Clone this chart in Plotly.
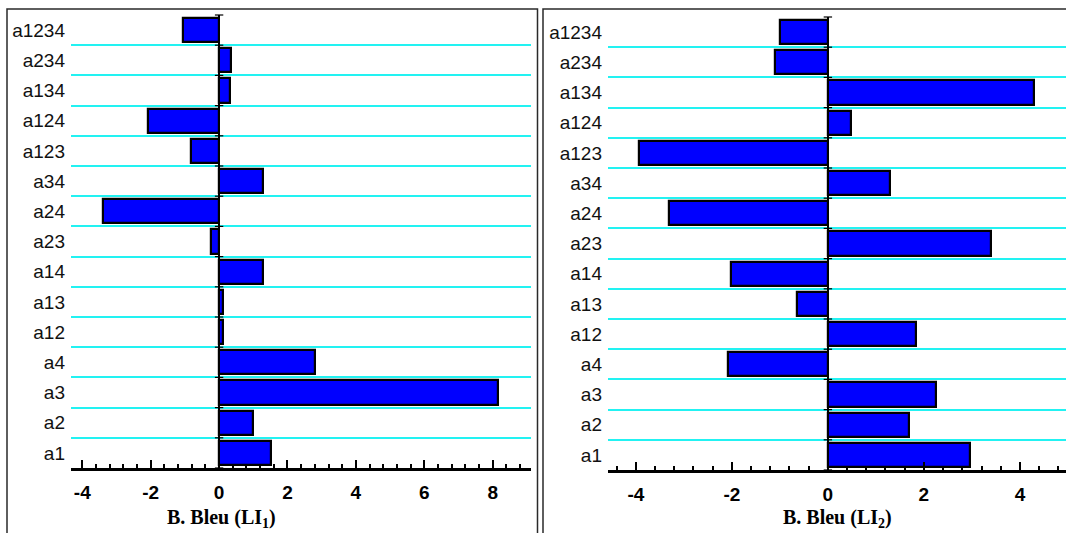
import plotly.graph_objects as go

# Effects (categories listed bottom to top)
categories = ["a1", "a2", "a3", "a4", "a12", "a13", "a14", "a23", "a24", "a34",
              "a123", "a124", "a134", "a234", "a1234"]

# Effects on B. Bleu for LI1 and LI2
li1_values = [1.52, 0.99, 8.16, 2.81, 0.12, 0.12, 1.28, -0.23, -3.39, 1.28,
              -0.83, -2.08, 0.32, 0.34, -1.06]
li2_values = [2.96, 1.69, 2.25, -2.08, 1.83, -0.65, -2.02, 3.40, -3.31, 1.29,
              -3.94, 0.49, 4.30, -1.10, -1.00]

x_tick_values = [-4, -2, 0, 2, 4, 6, 8]
x_tick_labels = ["-4", "-2", "0", "2", "4", "6", "8"]
x_titles = ["<b>B. Bleu (LI<sub>1</sub>)</b>", "<b>B. Bleu (LI<sub>2</sub>)</b>"]

W, H = 1066, 533
positions = list(range(len(categories)))
boundaries = [p + 0.5 for p in positions[:-1]]
edge_marks = [p - 0.5 for p in positions] + [positions[-1] + 0.5]


def px(x):
    return x / W


def py(y):
    return 1 - y / H


fig = go.Figure()

panels = [
    dict(values=li1_values, xa="x", ya="y", xrange=[-4.33, 9.12]),
    dict(values=li2_values, xa="x2", ya="y2", xrange=[-4.58, 4.96]),
]

for p in panels:
    fig.add_trace(go.Bar(
        x=p["values"], y=positions, orientation="h", width=0.8,
        marker=dict(color="#0000FF", line=dict(color="#000000", width=2.2)),
        xaxis=p["xa"], yaxis=p["ya"], showlegend=False, hoverinfo="x+y",
    ))
    # small marks along the zero axis at the row boundaries
    fig.add_trace(go.Scatter(
        x=[0] * len(edge_marks), y=edge_marks, mode="markers",
        marker=dict(symbol="line-ew", size=6, line=dict(color="#000000", width=1.2)),
        xaxis=p["xa"], yaxis=p["ya"], showlegend=False, hoverinfo="skip",
        cliponaxis=False,
    ))

tick_font = dict(family="Liberation Sans Narrow, Liberation Sans, Arial", size=19,
                 color="#000000", weight="bold")
cat_font = dict(family="Liberation Sans, Arial", size=19, color="#111111")


def x_axis(domain, rng, anchor):
    return dict(
        domain=domain, range=rng, anchor=anchor,
        tickmode="array", tickvals=x_tick_values, ticktext=x_tick_labels,
        ticks="inside", ticklen=8, tickwidth=2, tickcolor="#000000",
        minor=dict(dtick=0.4, tick0=0, ticks="inside", ticklen=4, tickwidth=2,
                   tickcolor="#000000", showgrid=False),
        showline=True, linecolor="#000000", linewidth=2.5,
        showgrid=False, zeroline=True, zerolinecolor="#000000", zerolinewidth=1.5,
        tickfont=tick_font, ticklabelstandoff=5, fixedrange=True,
    )


def y_axis(domain, anchor):
    return dict(
        domain=domain, range=[-0.5, len(categories) - 0.5], anchor=anchor,
        tickmode="array", tickvals=positions, ticktext=categories,
        ticks="", showline=False, showgrid=False, zeroline=False,
        minor=dict(tickmode="array", tickvals=boundaries, showgrid=True,
                   gridcolor="#22F2F2", gridwidth=2, ticks=""),
        tickfont=cat_font, ticklabelstandoff=5, fixedrange=True,
    )


title_font = dict(family="Liberation Serif, Times New Roman", size=20, color="#000000")

fig.update_layout(
    width=W, height=H,
    margin=dict(l=0, r=0, t=0, b=0),
    paper_bgcolor="#FFFFFF", plot_bgcolor="#FFFFFF",
    bargap=0,
    xaxis=x_axis([px(71), px(531)], panels[0]["xrange"], "y"),
    yaxis=y_axis([py(468), py(15)], "x"),
    xaxis2=x_axis([px(608), 1.0], panels[1]["xrange"], "y2"),
    yaxis2=y_axis([py(470), py(17)], "x2"),
    shapes=[
        dict(type="rect", xref="paper", yref="paper",
             x0=px(7), x1=px(537.5), y0=-0.05, y1=py(9),
             line=dict(color="#2a2a2a", width=1.5), fillcolor="rgba(0,0,0,0)"),
        dict(type="rect", xref="paper", yref="paper",
             x0=px(543), x1=1.05, y0=-0.05, y1=py(9),
             line=dict(color="#2a2a2a", width=1.5), fillcolor="rgba(0,0,0,0)"),
    ],
    annotations=[
        dict(text=x_titles[0], xref="paper", yref="paper", x=px(221), y=py(518),
             xanchor="center", yanchor="middle", showarrow=False, font=title_font),
        dict(text=x_titles[1], xref="paper", yref="paper", x=px(837), y=py(518),
             xanchor="center", yanchor="middle", showarrow=False, font=title_font),
    ],
)

fig.write_html("out.html")
